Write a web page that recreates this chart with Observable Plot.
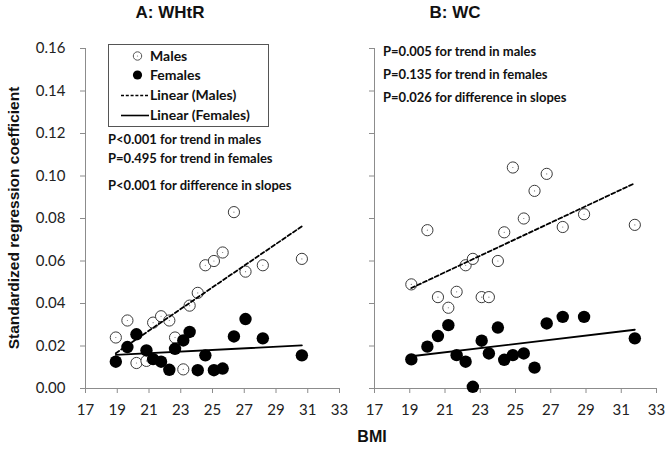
<!DOCTYPE html>
<html>
<head>
<meta charset="utf-8">
<script src="https://cdn.jsdelivr.net/npm/d3@7"></script>
<script src="https://cdn.jsdelivr.net/npm/@observablehq/plot@0.6"></script>
<style>
  html, body { margin: 0; padding: 0; background: white; }
  #wrap { position: relative; width: 666px; height: 454px; overflow: hidden; background: white; }
  .abs { position: absolute; white-space: nowrap; }
  .ttl { font-family: "Liberation Sans", Arial, sans-serif; font-weight: bold; color: #111; }
  .ann { font-family: Lato, "Open Sans", sans-serif; font-weight: bold; font-size: 13px; color: #111; line-height: 16px; }
  #legend { position: absolute; left: 108px; top: 44px; width: 159px; height: 81px; border: 1px solid #555; background: white; }
  #legend .row { position: absolute; left: 0; height: 18px; width: 159px; }
  #legend .lab { position: absolute; left: 41px; top: 0; line-height: 18px; font-family: Lato, sans-serif; font-weight: bold; font-size: 14px; color: #111; }
  #legend svg { position: absolute; left: 0; top: 0; }
  .panel { position: absolute; top: 0; }
  [aria-label="x-axis tick"], [aria-label="y-axis tick"] { stroke: #8c8c8c; }
  [aria-label="x-axis"] .tick line, [aria-label="y-axis"] .tick line { stroke: #8c8c8c; }
</style>
</head>
<body>
<div id="wrap"></div>
<script>
// ---- data ----
const xTicks = [17, 19, 21, 23, 25, 27, 29, 31, 33];
const yTicks = [0, 0.02, 0.04, 0.06, 0.08, 0.10, 0.12, 0.14, 0.16];

const bmiA = [18.91, 19.64, 20.21, 20.84, 21.26, 21.76, 22.28, 22.64, 23.16, 23.56, 24.07, 24.55, 25.09, 25.64, 26.35, 27.08, 28.17, 30.63];
const malesA = [0.024, 0.032, 0.012, 0.013, 0.031, 0.034, 0.032, 0.024, 0.009, 0.039, 0.045, 0.058, 0.060, 0.064, 0.083, 0.055, 0.058, 0.061];
const femalesA = [0.0126, 0.0195, 0.0255, 0.0179, 0.0138, 0.0126, 0.0088, 0.0187, 0.0226, 0.0266, 0.0086, 0.0156, 0.0086, 0.0094, 0.0245, 0.0327, 0.0236, 0.0156];

const bmiB = [19.09, 20.0, 20.6, 21.19, 21.66, 22.17, 22.58, 23.08, 23.49, 24.0, 24.36, 24.85, 25.47, 26.08, 26.77, 27.68, 28.89, 31.77];
const malesB = [0.049, 0.0745, 0.043, 0.038, 0.0455, 0.058, 0.061, 0.043, 0.043, 0.060, 0.0735, 0.104, 0.080, 0.093, 0.101, 0.076, 0.082, 0.077];
const femalesB = [0.0137, 0.0197, 0.0247, 0.0298, 0.0157, 0.0126, 0.0008, 0.0225, 0.0165, 0.0287, 0.0135, 0.0157, 0.0165, 0.0098, 0.0306, 0.0337, 0.0337, 0.0236];

const titles = ["A: WHtR", "B: WC"];
const annotA = ["P<0.001 for trend in males", "P=0.495 for trend in females", "P<0.001 for difference in slopes"];
const annotB = ["P=0.005 for trend in males", "P=0.135 for trend in females", "P=0.026 for difference in slopes"];
const legendLabels = ["Males", "Females", "Linear (Males)", "Linear (Females)"];
const yTitle = "Standardized regression coefficient";
const xTitle = "BMI";

// ---- build ----
const rowsA = bmiA.map((b, i) => ({bmi: b, male: malesA[i], female: femalesA[i]}));
const rowsB = bmiB.map((b, i) => ({bmi: b, male: malesB[i], female: femalesB[i]}));
const wrap = document.getElementById("wrap");

function panel(rows, opts) {
  return Plot.plot({
    width: opts.width,
    height: 454,
    marginLeft: opts.marginLeft,
    marginRight: opts.marginRight,
    marginTop: 48,
    marginBottom: 66,
    style: {fontFamily: "Lato, sans-serif", fontSize: "15px", color: "#222", background: "transparent", overflow: "visible"},
    x: {domain: [17, 33], ticks: xTicks, tickSize: 5, tickPadding: 11, label: null, tickFormat: d3.format("d")},
    y: {domain: [0, 0.16], ticks: yTicks, tickSize: 5, tickPadding: 15, label: null,
        tickFormat: opts.yLabels ? d3.format(".2f") : () => ""},
    marks: [
      Plot.ruleX([17], {y1: 0, y2: 0.16, stroke: "#8c8c8c"}),
      Plot.ruleY([0], {stroke: "#8c8c8c"}),
      Plot.dot(rows, {x: "bmi", y: "male", r: 5.6, stroke: "#3a3a3a", strokeWidth: 1, fill: "white"}),
      Plot.dot(rows, {x: "bmi", y: "male", r: 0.6, fill: "#777"}),
      Plot.dot(rows, {x: "bmi", y: "female", r: 6.2, fill: "black"}),
      Plot.linearRegressionY(rows, {x: "bmi", y: "male", ci: 0, stroke: "black", strokeWidth: 1.8, strokeDasharray: "4,2.5"}),
      Plot.linearRegressionY(rows, {x: "bmi", y: "female", ci: 0, stroke: "black", strokeWidth: 1.8})
    ]
  });
}

const pA = panel(rowsA, {width: 360, marginLeft: 85, marginRight: 21, yLabels: true});
pA.classList.add("panel"); pA.style.left = "0px";
const pB = panel(rowsB, {width: 306, marginLeft: 14, marginRight: 10, yLabels: false});
pB.classList.add("panel"); pB.style.left = "360px";
wrap.appendChild(pA);
wrap.appendChild(pB);

function addText(txt, cls, left, cy, size, extra) {
  const d = document.createElement("div");
  d.className = "abs " + cls;
  d.textContent = txt;
  d.style.fontSize = size + "px";
  d.style.lineHeight = (size + 4) + "px";
  d.style.top = (cy - (size + 4) / 2) + "px";
  if (extra === "center") { d.style.left = left + "px"; d.style.transform = "translateX(-50%)"; }
  else d.style.left = left + "px";
  wrap.appendChild(d);
  return d;
}

addText(titles[0], "ttl", 170, 12, 17, "center");
addText(titles[1], "ttl", 455, 12, 17, "center");
addText(xTitle, "ttl", 372, 437, 16, "center");

const yt = document.createElement("div");
yt.className = "abs ttl";
yt.textContent = yTitle;
yt.style.fontSize = "15.5px";
yt.style.lineHeight = "18px";
yt.style.left = "14px";
yt.style.top = "218px";
yt.style.transform = "translate(-50%, -50%) rotate(-90deg)";
wrap.appendChild(yt);

[139, 158, 185].forEach((cy, i) => addText(annotA[i], "ann", 108, cy, 13));
[51, 74, 97].forEach((cy, i) => addText(annotB[i], "ann", 383, cy, 13));

// legend
const lg = document.createElement("div");
lg.id = "legend";
const rowTops = [2, 21, 41, 61];
legendLabels.forEach((lab, i) => {
  const r = document.createElement("div");
  r.className = "row";
  r.style.top = rowTops[i] + "px";
  let sym = "";
  if (i === 0) sym = '<svg width="40" height="18"><circle cx="28.5" cy="9" r="4.2" fill="white" stroke="#555" stroke-width="1"/><circle cx="28.5" cy="9" r="0.6" fill="#777"/></svg>';
  if (i === 1) sym = '<svg width="40" height="18"><circle cx="28.5" cy="9" r="4.6" fill="black"/></svg>';
  if (i === 2) sym = '<svg width="40" height="18"><line x1="12" x2="40" y1="9.5" y2="9.5" stroke="black" stroke-width="1.3" stroke-dasharray="3,1.8"/></svg>';
  if (i === 3) sym = '<svg width="40" height="18"><line x1="12" x2="40" y1="9.5" y2="9.5" stroke="black" stroke-width="1.6"/></svg>';
  r.innerHTML = sym + '<span class="lab">' + lab + '</span>';
  lg.appendChild(r);
});
wrap.appendChild(lg);
</script>
</body>
</html>
